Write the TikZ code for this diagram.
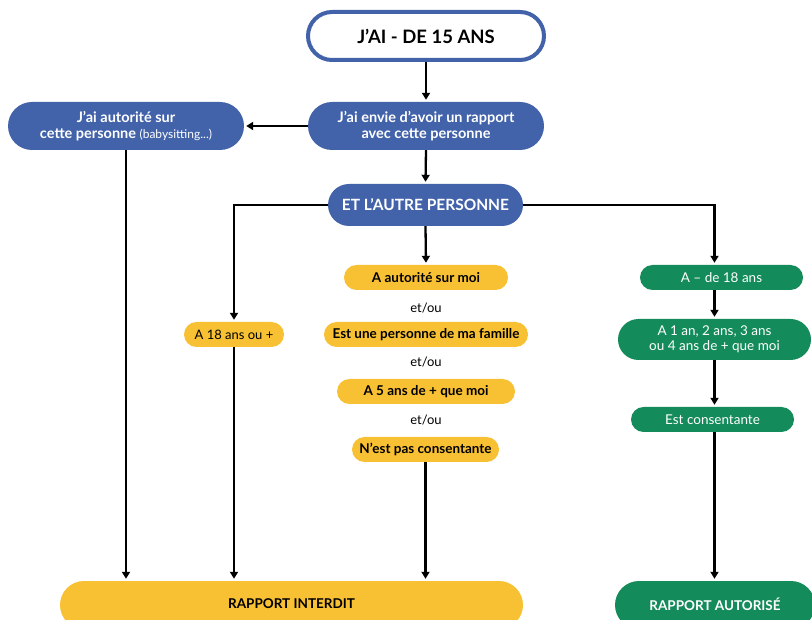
\documentclass[tikz,border=0pt]{standalone}
\usepackage{fontspec}
\setmainfont{Lato}
\usetikzlibrary{arrows.meta}
\definecolor{bleu}{HTML}{4263AA}
\definecolor{jaune}{HTML}{F8C033}
\definecolor{vert}{HTML}{148B5A}
\tikzstyle{box}=[rectangle,inner sep=0pt,anchor=center,align=center]
\tikzstyle{bluebox}=[box,fill=bleu,text=white,font=\fontsize{14.5}{15.5}\selectfont\bfseries]
\tikzstyle{yellowbox}=[box,fill=jaune,text=black,minimum height=25pt,rounded corners=12.5pt,font=\fontsize{13.5}{15}\selectfont\bfseries]
\tikzstyle{greenbox}=[box,fill=vert,text=white,minimum height=25pt,rounded corners=12.5pt,font=\fontsize{13.5}{15}\selectfont]
\tikzstyle{annot}=[align=center,font=\fontsize{13}{15}\selectfont]
\tikzstyle{fleche}=[line width=2.3pt,-{Triangle[length=7pt,width=8pt]},shorten >=2pt]

\begin{document}
\begin{tikzpicture}[x=1pt,y=-1pt]
	\useasboundingbox (0,0) rectangle (812,620);

	% haut
	\node[box, draw=bleu, line width=4pt, fill=white, minimum width=236pt, minimum height=48pt, rounded corners=24pt, font=\fontsize{18.5}{20}\selectfont\bfseries](age) at (426,36){J’AI - DE 15 ANS};
	\node[bluebox, minimum width=236pt, minimum height=48pt, rounded corners=24pt](envie) at (426,126){J’ai envie d’avoir un rapport\\avec cette personne};
	\node[bluebox, minimum width=236pt, minimum height=48pt, rounded corners=24pt](autorite) at (126,126){J’ai autorité sur\\cette personne {\mdseries\fontsize{12}{15.5}\selectfont(babysitting...)}};
	\node[bluebox, minimum width=195pt, minimum height=42pt, rounded corners=21pt, font=\fontsize{15.5}{17}\selectfont\bfseries](autre) at (425.5,205){ET L’AUTRE PERSONNE};

	% colonne du milieu
	\node[yellowbox, minimum width=164pt](surmoi) at (426,277.5){A autorité sur moi};
	\node[annot](etou1) at (426,308){et/ou};
	\node[yellowbox, minimum width=204pt](famille) at (426,334.5){Est une personne de ma famille};
	\node[annot](etou2) at (426,362){et/ou};
	\node[yellowbox, minimum width=178pt](cinq) at (426,391.5){A 5 ans de + que moi};
	\node[annot](etou3) at (426,420){et/ou};
	\node[yellowbox, minimum width=147pt](pascons) at (425.5,449.5){N’est pas consentante};

	\node[yellowbox, minimum width=100pt, font=\fontsize{13}{15}\selectfont](majeur) at (234,334.5){A 18 ans ou +};

	% colonne de droite
	\node[greenbox, minimum width=163pt](mineur) at (721.5,277.5){A – de 18 ans};
	\node[greenbox, minimum width=193pt, minimum height=41pt, rounded corners=20.5pt](ecart) at (714.5,339.5){A 1 an, 2 ans, 3 ans\\ou 4 ans de + que moi};
	\node[greenbox, minimum width=163pt](cons) at (712.5,419.5){Est consentante};

	% bas
	\node[box, fill=jaune, minimum width=463pt, minimum height=48pt, rounded corners=24pt, font=\fontsize{13.5}{15}\selectfont\bfseries](interdit) at (291.5,605){\raisebox{2pt}{RAPPORT INTERDIT}};
	\node[box, fill=vert, text=white, minimum width=200pt, minimum height=48pt, rounded corners=24pt, font=\fontsize{13.5}{15}\selectfont\bfseries](autorise) at (715,605){\raisebox{2pt}{RAPPORT AUTORISÉ}};

	% fleches
	\draw[fleche] (age.south) -- (envie.north);
	\draw[fleche] (envie.west) -- (autorite.east);
	\draw[fleche] (autorite.south) -- (autorite.south |- interdit.north);
	\draw[fleche] (envie.south) -- (autre.north);
	\draw[fleche] (autre.west) -| (majeur.north);
	\draw[fleche] (autre.south) -- (surmoi.north);
	\draw[fleche] (autre.east) -| (ecart.north |- mineur.north);
	\draw[fleche] (ecart.north |- mineur.south) -- (ecart.north);
	\draw[fleche] (ecart.south) -- (ecart.south |- cons.north);
	\draw[fleche] (ecart.south |- cons.south) -- (ecart.south |- autorise.north);
	\draw[fleche] (majeur.south) -- (majeur.south |- interdit.north);
	\draw[fleche] (pascons.south) -- (pascons.south |- interdit.north);

\end{tikzpicture}
\end{document}
